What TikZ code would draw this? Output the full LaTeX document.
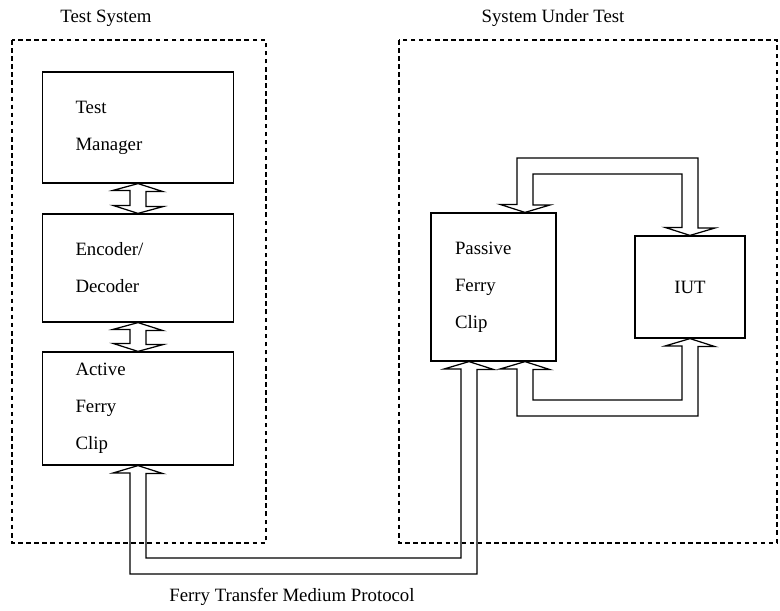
\documentclass[tikz,border=0pt]{standalone}
\usepackage{fontspec}
\setmainfont{Liberation Serif}
\usetikzlibrary{calc}

\begin{document}
\begin{tikzpicture}[
    x=0.02cm,
    y=-0.02cm,
    frame/.style={dash pattern=on 2.6pt off 2pt, line width=0.7pt},
    box/.style={draw, line width=0.7pt, align=left, font=\fontsize{10.7}{21}\selectfont},
    lbox/.style={box, text width=2.5cm, inner xsep=0.66cm},
    hollow/.style={draw, line width=0.7pt, line join=miter},
    lab/.style={font=\fontsize{10.7}{13}\selectfont}
  ]
    \useasboundingbox (0,0) rectangle (780,611);

    % Test System
    \begin{scope}
      \draw[frame] (12,40) rectangle (266,543);
      \node[lab] (ts) at (106,18) {Test System};
      \node[lbox, minimum height=2.22cm] (tm) at (138,127.5) {Test\\Manager};
      \node[lbox, minimum height=2.16cm] (ed) at (138,268) {Encoder/\\Decoder};
      \node[lbox, minimum height=2.26cm] (afc) at (138,408.5) {Active\\Ferry\\Clip};
      \draw[hollow] (tm.south) -- ++(25,8) -- ++(-17,0) -- ++(0,15) -- ++(17,0)
        -- (ed.north) -- ++(-25,-8) -- ++(17,0) -- ++(0,-15) -- ++(-17,0) -- cycle;
      \draw[hollow] (ed.south) -- ++(25,8) -- ++(-17,0) -- ++(0,14) -- ++(17,0)
        -- (afc.north) -- ++(-25,-8) -- ++(17,0) -- ++(0,-14) -- ++(-17,0) -- cycle;
    \end{scope}

    % System Under Test
    \begin{scope}
      \draw[frame] (399,40) rectangle (777,543);
      \node[lab] (sut) at (553,18) {System Under Test};
      \node[box, minimum height=2.96cm, text width=1.54cm, inner xsep=0.48cm] (pfc) at (493.5,287) {Passive\\Ferry\\Clip};
      \node[box, align=center, minimum width=2.2cm, minimum height=2.04cm] (iut) at (690,287) {IUT};
      \coordinate (pfcT) at ($(pfc.north)+(31.5,0)$);
      \coordinate (pfcB) at ($(pfc.south)+(31.5,0)$);
      \draw[hollow] (pfcT) -- ++(-25,-8) -- ++(17,0) -- (517,158) -- (698,158) -- (698,228) -- ++(17,0)
        -- (iut.north) -- ++(-25,-8) -- ++(17,0) -- (682,174) -- (533,174) -- (533,205) -- ++(17,0) -- cycle;
      \draw[hollow] (pfcB) -- ++(25,8) -- ++(-17,0) -- (533,400) -- (682,400) -- (682,346) -- ++(-17,0)
        -- (iut.south) -- ++(25,8) -- ++(-17,0) -- (698,416) -- (517,416) -- (517,369) -- ++(-17,0) -- cycle;
    \end{scope}

    % ferry medium
    \coordinate (pfcM) at ($(pfc.south)+(-24.5,0)$);
    \draw[hollow] (afc.south) -- ++(25,8) -- ++(-17,0) -- (146,558) -- (461,558) -- (461,369) -- ++(-17,0)
      -- (pfcM) -- ++(25,8) -- ++(-17,0) -- (477,574) -- (130,574) -- (130,473) -- ++(-17,0) -- cycle;
    \node[lab] (ftmp) at (292,597) {Ferry Transfer Medium Protocol};
  \end{tikzpicture}
\end{document}
